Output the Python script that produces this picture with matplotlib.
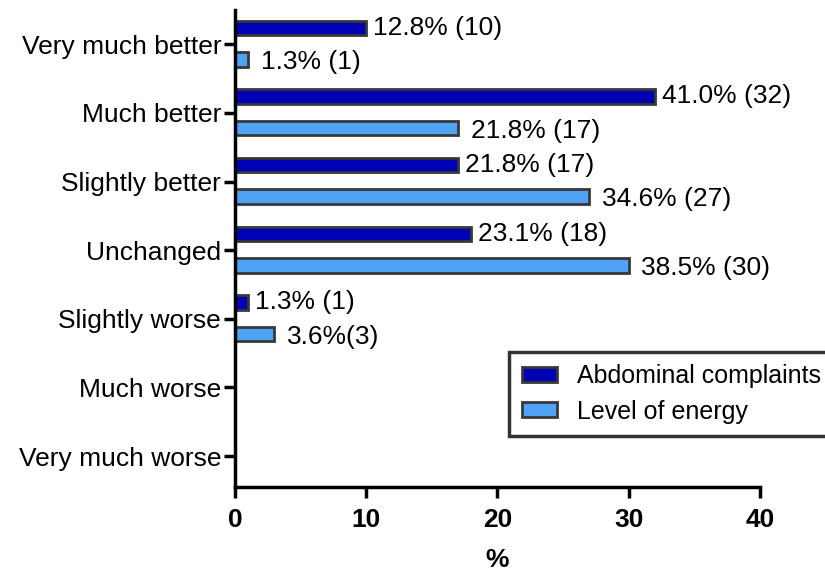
import matplotlib
matplotlib.use('Agg')
import matplotlib.pyplot as plt
import numpy as np

plt.rcParams['font.family'] = ['Liberation Sans', 'DejaVu Sans']

# categories, top to bottom
categories = ['Very much better', 'Much better', 'Slightly better', 'Unchanged',
              'Slightly worse', 'Much worse', 'Very much worse']
abdominal = [10, 32, 17, 18, 1, 0, 0]
energy = [1, 17, 27, 30, 3, 0, 0]
abdominal_labels = ['12.8% (10)', '41.0% (32)', '21.8% (17)', '23.1% (18)', '1.3% (1)', None, None]
energy_labels = ['1.3% (1)', '21.8% (17)', '34.6% (27)', '38.5% (30)', '3.6%(3)', None, None]

dark = '#0000B4'
light = '#4FA3F5'
fs = 19

fig = plt.figure(figsize=(8.25, 5.74), dpi=100)
ax = fig.add_axes([0.285, 0.1516, 0.636, 0.831])

y = np.arange(len(categories))
h = 0.21
ax.barh(y - 0.24, abdominal, height=h, color=dark, edgecolor='#383838', linewidth=2,
        label='Abdominal complaints')
ax.barh(y + 0.22, energy, height=h, color=light, edgecolor='#383838', linewidth=2,
        label='Level of energy')

for yi, v, lab in zip(y, abdominal, abdominal_labels):
    if lab:
        ax.annotate(lab, (v, yi - 0.24), xytext=(5, 0), textcoords='offset points',
                    va='center', ha='left', fontsize=fs)
for yi, v, lab in zip(y, energy, energy_labels):
    if lab:
        ax.annotate(lab, (v, yi + 0.22), xytext=(9, -2), textcoords='offset points',
                    va='center', ha='left', fontsize=fs)

ax.set_xlim(0, 40)
ax.set_ylim(6.45, -0.5)
ax.set_xticks([0, 10, 20, 30, 40])
ax.set_yticks(y)
ax.set_yticklabels(categories, fontsize=fs)
for t in ax.get_xticklabels():
    t.set_fontsize(fs)
    t.set_fontweight('bold')
ax.set_xlabel('%', fontsize=fs, fontweight='bold', labelpad=12)

ax.spines['top'].set_visible(False)
ax.spines['right'].set_visible(False)
ax.spines['left'].set_linewidth(2.5)
ax.spines['bottom'].set_linewidth(2.5)
ax.tick_params(axis='both', width=2.5, length=8)
ax.tick_params(axis='x', pad=7)
ax.tick_params(axis='y', pad=2)

leg = ax.legend(loc='upper left', bbox_to_anchor=(0.617, 0.387), bbox_transform=fig.transFigure,
                fontsize=18, frameon=True, fancybox=False, edgecolor='black', borderaxespad=0,
                handlelength=1.4, handleheight=0.55, borderpad=0.5, labelspacing=0.45,
                handletextpad=0.8)
leg.get_frame().set_linewidth(2.5)

plt.savefig('out.png', dpi=100)
